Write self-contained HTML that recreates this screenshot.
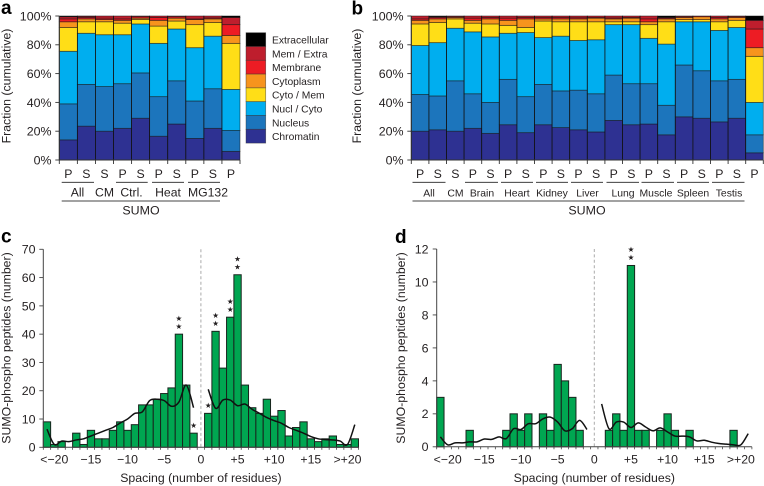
<!DOCTYPE html>
<html>
<head>
<meta charset="utf-8">
<title>SUMO fractions and spacing</title>
<style>
html,body{margin:0;padding:0;background:#fff;width:764px;height:486px;overflow:hidden}
svg{display:block;font-family:"Liberation Sans",Arial,sans-serif;fill:#231f20}
</style>
</head>
<body>
<svg id="fig" width="764" height="486" viewBox="0 0 764 486" xmlns="http://www.w3.org/2000/svg"></svg>
<script>
// Legend
const layerNames = ["Chromatin","Nucleus","Nucl / Cyto","Cyto / Mem","Cytoplasm","Membrane","Mem / Extra","Extracellular"];
const layerColors = ["#2e3192","#1c75bc","#00aeef","#ffde17","#f7941d","#ed1c24","#be1e2d","#000000"];

// Panel a
const aBarLabels = ["P","S","S","P","S","P","S","P","S","P"];
const aChromatin = [14,23.5,20,22,29,16.5,25,15,22,6];
const aNucleus = [25,29,31,31,31.5,27.5,30,26,27.5,14.5];
const aNuclCyto = [36.5,35.5,36,34,34,37,36,37,36.5,28.5];
const aCytoMem = [16.5,8,9,8,3,12,5.5,16,9.5,32];
const aCytoplasm = [4,2,1.5,2,1,4,2,3.5,2.5,5.5];
const aMembrane = [2,1,1,1,1,2,1,0.5,0.7,7.5];
const aMemExtra = [1.5,0.8,1.5,2,0.5,1,0.5,2,1.3,5];
const aExtra = [0.5,0.2,0,0,0,0,0,0,0,1];

// Panel b
const bBarLabels = ["P","S","S","P","S","P","S","P","S","P","S","P","S","P","S","P","S","P","S","P"];
const bChromatin = [20,21,20,22,18.5,24.5,19,24.5,22.5,21,19.5,27.5,24.5,25,17.5,30,29,26.5,29,5];
const bNucleus = [25.5,23.5,35,24,21.5,31.5,25,28,25.5,27.5,26.5,31.5,28.5,28,20.5,36,33,28.5,27,12.5];
const bNuclCyto = [34,37,36.5,43,45.5,32,44.5,32.5,38,34.5,37.5,35,41,31.5,42.5,30,34,35,36,22.5];
const bCytoMem = [15,14,6.5,6,9,5.5,3.5,11.5,10,13,12.5,2,2,9.5,15.5,1.5,1.5,6,5,32];
const bCytoplasm = [2.5,2.5,1,2,3.5,3.5,6,1.5,2,2,2.5,2,2.5,2,2,1.5,2,2,2,6];
const bMembrane = [1,1,0.5,1.5,1,1.5,1,1,1,0.8,0.5,0.7,0.5,2,0.7,0.5,0.5,1,0.5,13];
const bMemExtra = [2,0.5,0.5,1.5,1,1.5,1,1,1,1.2,1,1.3,1,2,0.3,0.5,0,1,0.5,6];
const bExtra = [0,0.5,0,0,0,0,0,0,0,0,0,0,0,0,1,0,0,0,0,3];

const pctTicks = [0,20,40,60,80,100];

// Panel c
const cCounts = [9,1,2,0,5,1,6,3,3,6,9,6,8,15,15,17,19,21,40,22,5,0,12,41,28,46,61,22,14,12,17,11,13,4,7,9,3,2,3,4,1,1,3];
const cLeftCurve = [6.4,1,2.2,2,2.6,3,4,5,6,7,8.6,10,12,12.5,16.5,17,16.5,14.5,16,22,14];
const cRightCurve = [20.5,13.8,16.7,16.7,14.7,15.3,13.4,12,10.5,9.4,8.5,7,6,5,3.8,3,2.7,2.6,2.2,1,8];
const cYTicks = [0,10,20,30,40,50,60,70];
const cStarBars = [18,20,22,23,25,26];
const cStarCounts = [2,1,1,2,2,2];

// Panel d
const dCounts = [3,0,0,0,1,0,0,0,0,1,2,1,2,0,2,1,5,4,3,1,0,0,0,1,2,1,11,1,1,0,1,2,1,0,1,0,0,0,0,0,1,0,0];
const dLeftCurve = [0.6,0.12,0.24,0.24,0.3,0.3,0.47,0.45,0.6,0.5,1.1,1.05,1.4,1.4,1.7,1.8,1.5,0.97,1.1,1.6,1.05];
const dRightCurve = [2.6,1.1,1.5,1.5,1.17,1.45,1.2,0.97,1.15,0.9,0.65,0.65,0.6,0.36,0.4,0.28,0.2,0.16,0.12,0.12,0.8];
const dYTicks = [0,2,4,6,8,10,12];
const dStarBars = [26];
const dStarCounts = [2];

const spacingLabels = ["<\u221220","\u221215","\u221210","\u22125","0","+5","+10","+15",">+20"];
const spacingLabelBars = [1,6,11,16,21,26,31,36,41];

const NS = "http://www.w3.org/2000/svg";
const fig = document.getElementById("fig");

function shape(tag, attrs, parent) {
  const el = document.createElementNS(NS, tag);
  for (const k in attrs) el.setAttribute(k, attrs[k]);
  (parent || fig).appendChild(el);
  return el;
}
function label(str, x, y, size, anchor, parent, extra) {
  const el = shape("text", Object.assign({x:x, y:y, "font-size":size, "text-anchor":anchor || "middle"}, extra || {}), parent);
  el.textContent = str;
  return el;
}
function group(name) {
  const g = shape("g", {});
  
  
  return g;
}
function smoothPath(pts) {
  let d = "M" + pts[0][0].toFixed(2) + " " + pts[0][1].toFixed(2);
  for (let i = 0; i < pts.length - 1; i++) {
    const p0 = pts[Math.max(i - 1, 0)], p1 = pts[i], p2 = pts[i + 1], p3 = pts[Math.min(i + 2, pts.length - 1)];
    d += "C" + (p1[0] + (p2[0] - p0[0]) / 6).toFixed(2) + " " + (p1[1] + (p2[1] - p0[1]) / 6).toFixed(2) + " " +
      (p2[0] - (p3[0] - p1[0]) / 6).toFixed(2) + " " + (p2[1] - (p3[1] - p1[1]) / 6).toFixed(2) + " " +
      p2[0].toFixed(2) + " " + p2[1].toFixed(2);
  }
  return d;
}

function stackedPanel(name, layers, barLabels, left, barW, tickRight, titleX, groups, groupSize, sumoLine, sumoX) {
  const top = 16, bottom = 160;
  const yScale = v => bottom - (v / 100) * (bottom - top);
  const xScale = i => left + i * barW;
  const g = group(name + "-chart");
  barLabels.forEach((lab, i) => {
    let cum = 0;
    layers.forEach((arr, l) => {
      const v = arr[i];
      if (v <= 0) return;
      const r = shape("rect", {x:xScale(i), y:yScale(cum + v), width:barW, height:yScale(cum) - yScale(cum + v), fill:layerColors[l], stroke:"#141414", "stroke-opacity":0.6, "stroke-width":0.8}, g);
      
      
      cum += v;
    });
    const e = shape("line", {x1:xScale(i), x2:xScale(i), y1:top + (100 - cum) * 1.44, y2:bottom, stroke:"#111", "stroke-width":0.7}, g);
    
    
    const t = label(lab, xScale(i) + barW / 2, 178, 12.3, "middle", g);
    
    
  });
  const ax = shape("path", {d:"M" + left + " " + top + "V" + bottom + "H" + xScale(barLabels.length), fill:"none", stroke:"#333", "stroke-width":1}, g);
  
  
  for (let i = 0; i <= barLabels.length; i++) {
    const tk = shape("line", {x1:xScale(i), x2:xScale(i), y1:bottom, y2:bottom + 4, stroke:"#333", "stroke-width":0.9}, g);
    
    
  }
  pctTicks.forEach(p => {
    const tk = shape("line", {x1:left - 4, x2:left, y1:yScale(p), y2:yScale(p), stroke:"#333", "stroke-width":0.9}, g);
    
    
    const t = label(p + "%", tickRight, yScale(p) + 4.4, 12.4, "end", g);
    
    
  });
  const yt = label("Fraction (cumulative)", 0, 0, 12.3, "middle", g, {transform:"translate(" + titleX + " 86) rotate(-90)"});
  
  
  groups.forEach(gr => {
    if (gr[1] !== null) {
      const ln = shape("line", {x1:gr[1], x2:gr[2], y1:182.3, y2:182.3, stroke:"#222", "stroke-width":0.9}, g);
      
      
    }
    const t = label(gr[0], gr[3], 196.5, groupSize, "middle", g);
    
    
  });
  const sl = shape("line", {x1:sumoLine[0], x2:sumoLine[1], y1:201, y2:201, stroke:"#444", "stroke-width":1}, g);
  
  
  const st = label("SUMO", sumoX, 214.5, 12.4, "middle", g);
  
  
}

function histogramPanel(name, counts, leftCurve, rightCurve, yTicks, yMax, left, barW, bottom, top, tickRight, titleX, starBars, starCounts) {
  const yScale = v => bottom - (v / yMax) * (bottom - top);
  const xScale = i => left + i * barW;
  const g = group(name + "-chart");
  const right = xScale(counts.length);
  const zero = xScale(21.5);
  const dash = shape("line", {x1:zero, x2:zero, y1:top, y2:bottom, stroke:"#aaa", "stroke-width":1, "stroke-dasharray":"3 2.4"}, g);
  
  
  counts.forEach((v, i) => {
    if (v <= 0) return;
    const r = shape("rect", {x:xScale(i), y:yScale(v), width:barW, height:bottom - yScale(v), fill:"#00a651", stroke:"#18241d", "stroke-width":1}, g);
    
    
  });
  const ax = shape("path", {d:"M" + left + " " + top + "V" + bottom + "H" + right, fill:"none", stroke:"#444", "stroke-width":1}, g);
  
  
  for (let i = 0; i <= counts.length; i++) {
    const tk = shape("line", {x1:xScale(i), x2:xScale(i), y1:bottom, y2:bottom + 2.5, stroke:"#444", "stroke-width":0.8}, g);
    
    
  }
  yTicks.forEach(v => {
    const tk = shape("line", {x1:left - 4, x2:left, y1:yScale(v), y2:yScale(v), stroke:"#444", "stroke-width":0.9}, g);
    
    
    const t = label(String(v), tickRight, yScale(v) + 4.4, 12.4, "end", g);
    
    
  });
  const leftPts = leftCurve.map((v, i) => [xScale(i + 0.5), yScale(v)]);
  const rightPts = rightCurve.map((v, i) => [xScale(i + 22.5), yScale(v)]);
  const c1 = shape("path", {d:smoothPath(leftPts), fill:"none", stroke:"#111", "stroke-width":1.5}, g);
  
  
  const c2 = shape("path", {d:smoothPath(rightPts), fill:"none", stroke:"#111", "stroke-width":1.5}, g);
  
  
  starBars.forEach((b, idx) => {
    for (let s = 0; s < starCounts[idx]; s++) {
      const t = label("\u2605", xScale(b + 0.5), yScale(counts[b]) - 5.4 - s * 8, 7.5, "middle", g, {style:'font-family:"DejaVu Sans",sans-serif'});
      
      
    }
  });
  spacingLabels.forEach((lab, i) => {
    const t = label(lab, xScale(spacingLabelBars[i] + 0.5), 463.5, 12.3, "middle", g);
    
    
  });
  const xt = label("Spacing (number of residues)", zero, 482, 12.3, "middle", g);
  
  
  const yt = label("SUMO-phospho peptides (number)", 0, 0, 12.3, "middle", g, {transform:"translate(" + titleX + " 348) rotate(-90)"});
  
  
}

stackedPanel("panel-a", [aChromatin,aNucleus,aNuclCyto,aCytoMem,aCytoplasm,aMembrane,aMemExtra,aExtra], aBarLabels, 59.3, 18.07, 51.5, 10.5,
  [["All",61.7,94,77.5],["CM",null,null,104.5],["Ctrl.",116,147.7,131.5],["Heat",152,184,168],["MG132",188,220,208]], 12.2, [61.7,220], 141);

stackedPanel("panel-b", [bChromatin,bNucleus,bNuclCyto,bCytoMem,bCytoplasm,bMembrane,bMemExtra,bExtra], bBarLabels, 411.3, 17.6, 403.5, 361,
  [["All",412.5,445.5,429],["CM",null,null,455.5],["Brain",465,498,482],["Heart",501,533,517],["Kidney",536,568,552],["Liver",571,603,587.5],["Lung",606.5,639,623],["Muscle",641.5,674,656],["Spleen",677,709,693],["Testis",712,744.5,729]], 10.4, [412.5,744.5], 587);

histogramPanel("panel-c", cCounts, cLeftCurve, cRightCurve, cYTicks, 70, 43.3, 7.33, 447.3, 249.3, 35.5, 10.5, cStarBars, cStarCounts);
histogramPanel("panel-d", dCounts, dLeftCurve, dRightCurve, dYTicks, 12, 436.7, 7.33, 446.8, 249, 428.5, 405, dStarBars, dStarCounts);

// Legend
const legend = group("legend");
const legendTop = 32.7, legendRow = 13.8;
layerNames.slice().reverse().forEach((nm, i) => {
  const color = layerColors[layerNames.length - 1 - i];
  const sw = shape("rect", {x:246, y:legendTop + i * legendRow, width:19.7, height:legendRow, fill:color, stroke:"#333", "stroke-opacity":0.6, "stroke-width":0.7}, legend);
  
  
  const t = label(nm, 272, legendTop + i * legendRow + 10.8, 10.3, "start", legend);
  
  
});

// Panel letters
const panelLetters = ["a","b","c","d"];
const panelLetterX = [1,351.5,1,395];
const panelLetterY = [14,14.5,242.5,243];
panelLetters.forEach((ch, i) => {
  const t = label(ch, panelLetterX[i], panelLetterY[i], 19, "start", null, {"font-weight":"bold", fill:"#000"});
  
  
});
</script>
</body>
</html>
